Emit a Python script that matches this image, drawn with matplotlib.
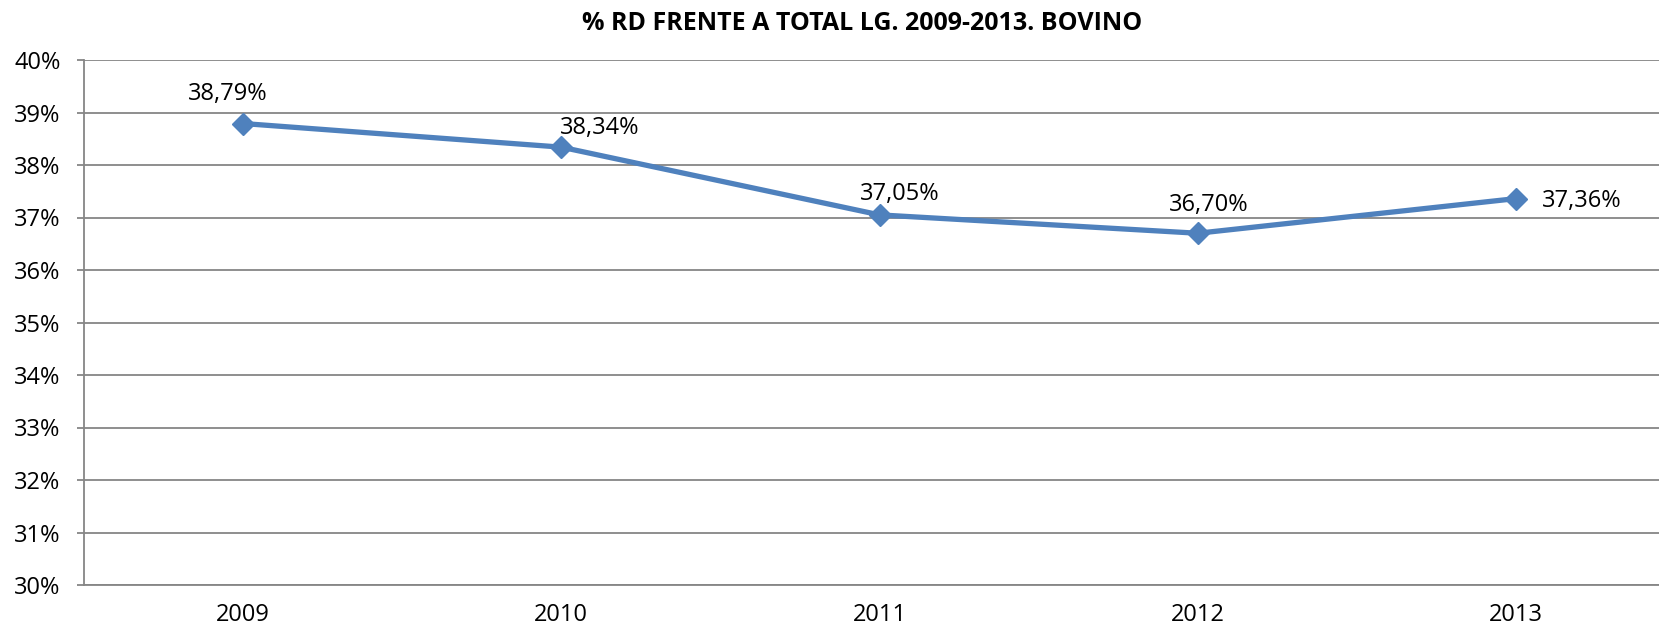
import matplotlib
matplotlib.use("Agg")
import matplotlib.pyplot as plt
from matplotlib.ticker import FuncFormatter

plt.rcParams['font.family'] = ['Open Sans', 'DejaVu Sans']

years = ['2009', '2010', '2011', '2012', '2013']
values = [38.79, 38.34, 37.05, 36.70, 37.36]
labels = ['38,79%', '38,34%', '37,05%', '36,70%', '37,36%']
# label offsets in pixels (dx, dy)
offsets = [(-15, 30), (38, 19), (20, 21), (11, 28), (66, -2)]

GRID = '#868686'
BLUE = '#4F81BD'

fig = plt.figure(figsize=(16.59, 6.32), dpi=100)
ax = fig.add_axes([84/1659, 47/632, 1591/1659, 525/632])

x = list(range(len(years)))
ax.plot(x, values, color=BLUE, lw=3.8, marker='D', markersize=11.5, zorder=3, clip_on=False)

for xi, v, lab, (dx, dy) in zip(x, values, labels, offsets):
    ax.annotate(lab, (xi, v), xytext=(dx * 0.72, dy * 0.72), textcoords='offset points',
                ha='center', va='center', fontsize=17, color='black')

ax.set_xlim(-0.5, 4.5)
ax.set_ylim(30, 40)
ax.set_yticks(range(30, 41))
ax.yaxis.set_major_formatter(FuncFormatter(lambda v, p: '%d%%' % v))
ax.set_xticks(x)
ax.set_xticklabels(years)
ax.yaxis.grid(True, color=GRID, lw=1.3)
ax.set_axisbelow(True)

for s in ['top', 'right']:
    ax.spines[s].set_visible(False)
for s in ['left', 'bottom']:
    ax.spines[s].set_color(GRID)
    ax.spines[s].set_linewidth(1.3)

ax.tick_params(axis='y', length=5, width=1.3, color=GRID, labelsize=17, pad=12)
ax.tick_params(axis='x', length=0, labelsize=17, pad=13)

fig.text(862/1659, 1 - 23/632, '% RD FRENTE A TOTAL LG. 2009-2013. BOVINO',
         ha='center', va='center', fontsize=18, fontweight='bold')

plt.savefig('out.png', dpi=100)
